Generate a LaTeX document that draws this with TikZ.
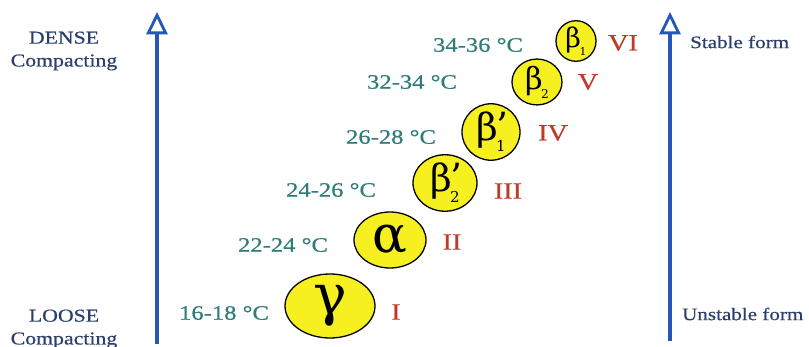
\documentclass[tikz,border=0pt]{standalone}
\usepackage{fontspec}
\setmainfont{Liberation Serif}[FakeStretch=1.2,FakeBold=0.6]
\newfontfamily\grk{DejaVu Serif}
\usetikzlibrary{arrows.meta,shapes.geometric}
\definecolor{navy}{HTML}{2B3F6E}
\definecolor{tealtxt}{HTML}{2E7D7B}
\definecolor{redtxt}{HTML}{C0392B}
\definecolor{axisblue}{HTML}{2457B8}
\definecolor{formyellow}{HTML}{F7F020}
\newcommand\bsubprime[1]{β\kern-0.05em\rlap{\raisebox{0.02em}{’}}\raisebox{-0.3em}{\fontsize{0.4em}{0.4em}\selectfont #1}}
\newcommand\bsub[1]{β\kern-0.05em\raisebox{-0.3em}{\fontsize{0.4em}{0.4em}\selectfont #1}}
\begin{document}
\begin{tikzpicture}[x=0.03cm,y=-0.03cm,
  side/.style={text=navy, font=\fontsize{15.5}{19.5}\selectfont, align=center},
  formlabel/.style={text=navy, font=\fontsize{15}{18}\selectfont, anchor=west},
  temp/.style={text=tealtxt, font=\fontsize{17.5}{19}\selectfont},
  num/.style={text=redtxt, font=\fontsize{20}{22}\selectfont},
  form/.style 2 args={draw=black, line width=1.1pt, fill=formyellow, ellipse, inner sep=0pt,
    minimum width=#1*0.03cm, minimum height=#2*0.03cm},
  axis/.style={draw=axisblue, line width=2.6pt,
    -{Triangle[open, length=19pt, width=18pt, line width=2.4pt]}}
]
\useasboundingbox (0,0) rectangle (809,347);
% axes
\coordinate (L0) at (157,344);
\coordinate (L1) at (157,12);
\coordinate (R0) at (670,341);
\coordinate (R1) at (670,12);
\draw[axis] (L0) -- (L1);
\draw[axis] (R0) -- (R1);
% side labels
\node[side] (dense) at (64,51) {DENSE\\Compacting};
\node[side] (loose) at (64,329) {LOOSE\\Compacting};
\node[formlabel] (stable) at (686,42) {Stable form};
\node[formlabel] (unstable) at (678,314) {Unstable form};
% polymorphs
\node[form={90}{64}] (g) at (330,306) {\grk\fontsize{48}{48}\selectfont γ};
\node[form={72}{56}] (a) at (390,240) {\grk\fontsize{44}{44}\selectfont α};
\node[form={64}{48}] (b2p) at (445,183) {\grk\fontsize{32}{32}\selectfont \bsubprime{2}};
\node[form={58}{46}] (b1p) at (491,132) {\grk\fontsize{32}{32}\selectfont \bsubprime{1}};
\node[form={50}{38}] (b2) at (537,82) {\grk\fontsize{26}{26}\selectfont \bsub{2}};
\node[form={40}{32}] (b1) at (576,41) {\grk\fontsize{23}{23}\selectfont \bsub{1}};
% temperatures
\node[temp] (t1) at (224,313) {16-18 °C};
\node[temp] (t2) at (283,245) {22-24 °C};
\node[temp] (t3) at (331,190) {24-26 °C};
\node[temp] (t4) at (391,137) {26-28 °C};
\node[temp] (t5) at (412,82) {32-34 °C};
\node[temp] (t6) at (478,45) {34-36 °C};
% roman numerals
\node[num] (n1) at (396,312) {I};
\node[num] (n2) at (452,242) {II};
\node[num] (n3) at (508,191) {III};
\node[num] (n4) at (553,133) {IV};
\node[num] (n5) at (588,82) {V};
\node[num] (n6) at (623,43) {VI};
\end{tikzpicture}
\end{document}
